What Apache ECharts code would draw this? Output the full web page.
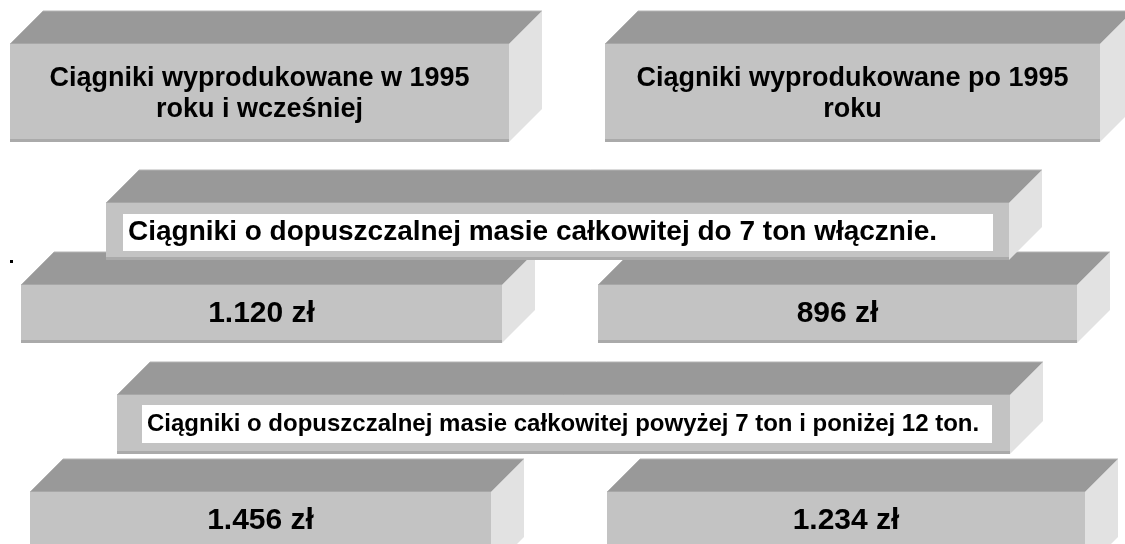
<!DOCTYPE html>
<html>
<head>
<meta charset="utf-8">
<title>Stawki podatku od środków transportowych - ciągniki</title>
<script src="https://cdn.jsdelivr.net/npm/echarts@6/dist/echarts.min.js"></script>
<style>
    html, body { margin: 0; padding: 0; background: #fff; }
    #chart { width: 1125px; height: 544px; }
</style>
</head>
<body>
<div id="chart"></div>
<script>
// dane: naglowki kolumn, klasy masy, stawki (zl)
var columnHeads = ['Ciągniki wyprodukowane w 1995\nroku i wcześniej', 'Ciągniki wyprodukowane po 1995\nroku']
var weightClasses = ['Ciągniki o dopuszczalnej masie całkowitej do 7 ton włącznie.',
    'Ciągniki o dopuszczalnej masie całkowitej powyżej 7 ton i poniżej 12 ton.']
var ratesOld = [1120, 1456]
var ratesNew = [896, 1234]

// uklad: front [x0, y0, x1, y1]
var headBoxes = [[10, 44, 509, 142], [605, 44, 1100, 142]]
var classBoxes = [[106, 203, 1009, 260], [117, 395, 1010, 454]]
var classLabels = [[123, 214, 993, 251], [142, 405, 992, 443]]
var classFonts = [28, 24]
var rateBoxes = [[[21, 285, 502, 343], [598, 285, 1077, 343]],
                 [[30, 492, 491, 570], [607, 492, 1085, 570]]]
var DEPTH = 33
var FONT = '"Liberation Sans", Arial, sans-serif'

function fmt(v) {
    if (v < 1000) return v + ' zł'
    var r = String(v % 1000)
    while (r.length < 3) r = '0' + r
    return Math.floor(v / 1000) + '.' + r + ' zł'
}

function box(b, z) {
    var x0 = b[0], y0 = b[1], x1 = b[2], y1 = b[3], d = DEPTH
    return [
        { type: 'polygon', z: z, shape: { points: [[x0, y0], [x0 + d, y0 - d], [x1 + d, y0 - d], [x1, y0]] },
          style: { fill: '#999999', stroke: '#b4b4b4', lineWidth: 1 } },
        { type: 'polygon', z: z, shape: { points: [[x1, y0], [x1 + d, y0 - d], [x1 + d, y1 - d], [x1, y1]] },
          style: { fill: '#e2e2e2' } },
        { type: 'rect', z: z, shape: { x: x0, y: y0, width: x1 - x0, height: y1 - y0 },
          style: { fill: '#c3c3c3' } },
        { type: 'line', z: z, shape: { x1: x0, y1: y1 - 1.5, x2: x1, y2: y1 - 1.5 },
          style: { stroke: '#aaaaaa', lineWidth: 3 } }
    ]
}

function label(text, x, y, size, align, z) {
    return { type: 'text', z: z, style: {
        text: text, x: x, y: y, fill: '#000',
        font: 'bold ' + size + 'px ' + FONT, lineHeight: 31,
        align: align, textAlign: align, verticalAlign: 'middle', textVerticalAlign: 'middle'
    } }
}

var els = []
var z = 1

// naglowki kolumn
headBoxes.forEach(function (b, i) {
    els = els.concat(box(b, z))
    els.push(label(columnHeads[i], (b[0] + b[2]) / 2, (b[1] + b[3]) / 2 + 1, 27, 'center', z + 1))
})

// wiersze: stawki pod spodem, naglowek klasy nad nimi
weightClasses.forEach(function (name, r) {
    z += 2
    rateBoxes[r].forEach(function (b, c) {
        var v = c === 0 ? ratesOld[r] : ratesNew[r]
        els = els.concat(box(b, z))
        var cy = r === 0 ? (b[1] + b[3]) / 2 : b[1] + 29
        els.push(label(fmt(v), (b[0] + b[2]) / 2, cy, 30, 'center', z + 1))
    })
    z += 2
    var cb = classBoxes[r], lb = classLabels[r]
    els = els.concat(box(cb, z))
    els.push({ type: 'rect', z: z + 1, shape: { x: lb[0], y: lb[1], width: lb[2] - lb[0], height: lb[3] - lb[1] },
        style: { fill: '#ffffff' } })
    els.push(label(name, lb[0] + 5, (lb[1] + lb[3]) / 2, classFonts[r], 'left', z + 1))
})

// kropka na marginesie
els.push({ type: 'rect', z: 1, shape: { x: 10, y: 260, width: 3, height: 3 }, style: { fill: '#000' } })

var myChart = echarts.init(document.getElementById('chart'))
myChart.setOption({
    animation: false,
    graphic: { elements: els }
})
window.addEventListener('resize', function () {
    myChart.resize()
})
</script>
</body>
</html>
